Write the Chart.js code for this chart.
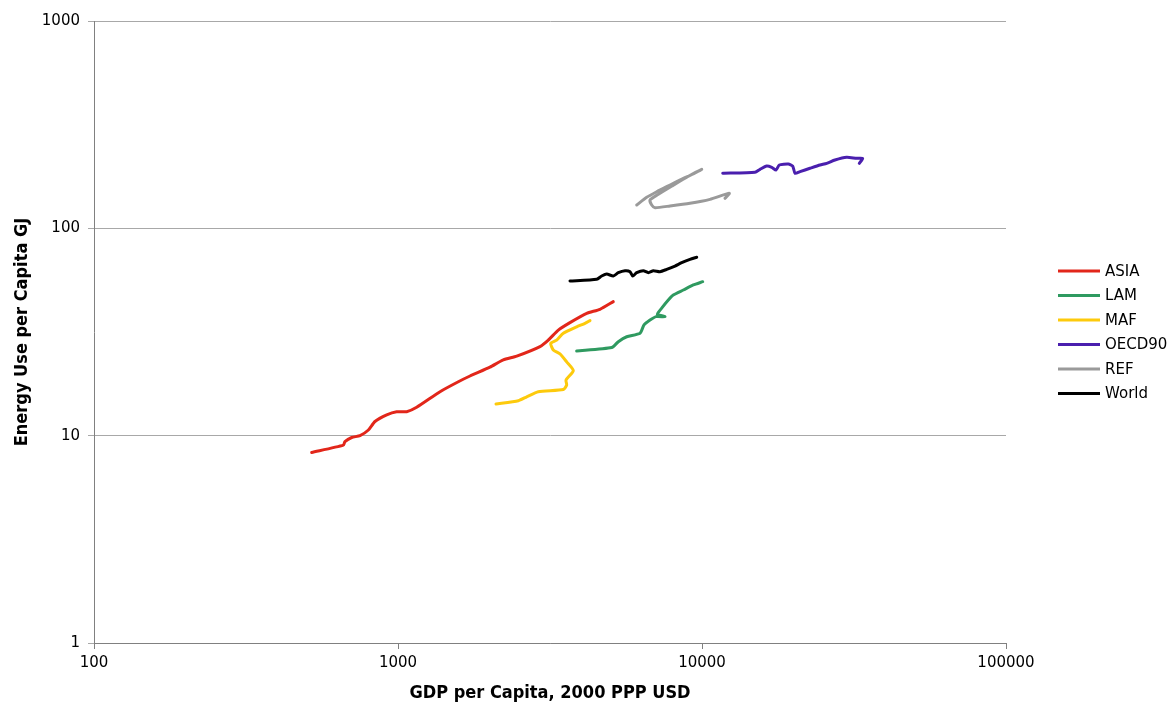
<!DOCTYPE html>
<html>
<head>
<meta charset="utf-8">
<script src="https://cdn.jsdelivr.net/npm/chart.js@4.4.1/dist/chart.umd.min.js"></script>
<style>
  html, body { margin: 0; padding: 0; background: #ffffff; }
  #wrap { width: 1174px; height: 704px; position: relative; }
</style>
</head>
<body>
<div id="wrap"><canvas id="c" width="1174" height="704"></canvas></div>
<script>
// ---- Data ----
const seriesNames = ['ASIA', 'LAM', 'MAF', 'OECD90', 'REF', 'World'];

const asiaGdp    = [520, 661, 669, 704, 750, 799, 840, 918, 990, 1068, 1152, 1375, 1579, 1725, 2007, 2220, 2458, 2932, 3122, 3368, 3679, 4176, 4618, 5107];
const asiaEnergy = [8.3, 9.0, 9.35, 9.8, 10.0, 10.65, 11.7, 12.6, 13.05, 13.05, 13.7, 16.3, 18.2, 19.4, 21.4, 23.2, 24.2, 26.9, 28.9, 32.3, 35.1, 38.9, 40.7, 44.3];

const lamGdp    = [3870, 5047, 5305, 5654, 6254, 6446, 6745, 7058, 7554, 7129, 7369, 7747, 8045, 8680, 9363, 10053];
const lamEnergy = [25.6, 26.6, 28.4, 30.0, 31.2, 34.2, 36.1, 37.5, 37.5, 38.5, 41.2, 45.1, 47.7, 50.4, 53.3, 55.3];

const mafGdp    = [2101, 2488, 2651, 2894, 3498, 3588, 3569, 3773, 3588, 3411, 3242, 3179, 3327, 3498, 3870, 4122, 4281];
const mafEnergy = [14.2, 14.75, 15.4, 16.3, 16.7, 17.55, 18.55, 20.6, 22.7, 24.8, 25.9, 27.9, 28.9, 31.2, 33.5, 34.8, 35.9];

const oecdGdp    = [11700, 14940, 15520, 16320, 16960, 17520, 17960, 19230, 19880, 20230, 21010, 22660, 24450, 25720, 27380, 29920, 32280, 33780, 32920];
const oecdEnergy = [184.3, 186.3, 192.6, 199.8, 196.9, 191.1, 202.1, 204.3, 199.8, 184.3, 187.6, 194.8, 202.1, 205.9, 213.6, 220.1, 217.6, 217.6, 205.9];

const refGdp    = [6099, 6578, 7096, 7846, 8680, 9363, 9977, 8993, 7966, 7166, 6745, 6832, 7005, 7846, 9130, 10625, 12295, 11904];
const refEnergy = [129.6, 141.1, 150.2, 161.8, 174.3, 182.8, 192.6, 177.8, 160.0, 145.6, 137.0, 129.6, 125.8, 128.2, 132.1, 138.0, 147.6, 139.6];

const worldGdp    = [3679, 4504, 4678, 4859, 5107, 5305, 5582, 5798, 5916, 6099, 6412, 6660, 6917, 7275, 7655, 8150, 8575, 9130, 9607];
const worldEnergy = [55.7, 56.8, 58.9, 60.2, 58.9, 61.1, 62.45, 61.8, 58.9, 61.1, 62.45, 61.1, 62.45, 61.8, 63.4, 65.8, 68.3, 70.9, 72.5];

const xTickValues = [100, 1000, 10000, 100000];
const xTickLabels = ['100', '1000', '10000', '100000'];
const yTickValues = [1, 10, 100, 1000];
const yTickLabels = ['1', '10', '100', '1000'];

const seriesColors = ['#e2261a', '#2f9a60', '#fdca0c', '#4a1fae', '#9a9a9a', '#000000'];

// ---- Build datasets ----
function pts(xs, ys) { return xs.map((x, i) => ({ x: x, y: ys[i] })); }
const allX = [asiaGdp, lamGdp, mafGdp, oecdGdp, refGdp, worldGdp];
const allY = [asiaEnergy, lamEnergy, mafEnergy, oecdEnergy, refEnergy, worldEnergy];

const datasets = seriesNames.map((name, i) => ({
  label: name,
  data: pts(allX[i], allY[i]),
  showLine: true,
  borderColor: seriesColors[i],
  backgroundColor: seriesColors[i],
  borderWidth: 3,
  pointRadius: 0,
  pointHoverRadius: 0,
  tension: 0.2,
  borderCapStyle: 'round',
  borderJoinStyle: 'round',
  fill: false
}));

// ---- Custom legend drawn at the right ----
const rightLegend = {
  id: 'rightLegend',
  afterDraw(chart) {
    const ctx = chart.ctx;
    ctx.save();
    const x0 = 1058, x1 = 1100, tx = 1105;
    const yStart = 271, step = 24.5;
    ctx.font = '15px "DejaVu Sans", Verdana, sans-serif';
    ctx.textBaseline = 'middle';
    ctx.textAlign = 'left';
    chart.data.datasets.forEach((ds, i) => {
      const y = yStart + i * step;
      ctx.strokeStyle = ds.borderColor;
      ctx.lineWidth = 3;
      ctx.lineCap = 'butt';
      ctx.beginPath();
      ctx.moveTo(x0, y);
      ctx.lineTo(x1, y);
      ctx.stroke();
      ctx.fillStyle = '#000000';
      ctx.fillText(ds.label, tx, y + 1);
    });
    ctx.restore();
  }
};

const whiteBg = {
  id: 'whiteBg',
  beforeDraw(chart) {
    const ctx = chart.ctx;
    ctx.save();
    ctx.fillStyle = '#ffffff';
    ctx.fillRect(0, 0, chart.width, chart.height);
    ctx.restore();
  }
};

new Chart(document.getElementById('c'), {
  type: 'scatter',
  data: { datasets: datasets },
  options: {
    responsive: false,
    animation: false,
    devicePixelRatio: 1,
    layout: { padding: { top: 21, right: 168, left: 0, bottom: 0 } },
    plugins: {
      legend: { display: false },
      tooltip: { enabled: false }
    },
    scales: {
      x: {
        type: 'logarithmic',
        min: 100,
        max: 100000,
        afterBuildTicks(scale) { scale.ticks = xTickValues.map(v => ({ value: v })); },
        afterFit(scale) { scale.height = 61; },
        ticks: {
          callback: (v) => { const k = xTickValues.indexOf(v); return k >= 0 ? xTickLabels[k] : ''; },
          font: { family: '"DejaVu Sans", Verdana, sans-serif', size: 15 },
          color: '#000000',
          padding: 5,
          maxRotation: 0,
          autoSkip: false
        },
        grid: { drawOnChartArea: false, drawTicks: true, tickLength: 6, color: '#808080' },
        border: { display: true, color: '#808080', width: 1 },
        title: {
          display: true,
          text: 'GDP per Capita, 2000 PPP USD',
          font: { family: '"DejaVu Sans Condensed", "DejaVu Sans", sans-serif', size: 18, weight: 'bold' },
          color: '#000000',
          padding: { top: 0, bottom: 0 }
        }
      },
      y: {
        type: 'logarithmic',
        min: 1,
        max: 1000,
        afterBuildTicks(scale) { scale.ticks = yTickValues.map(v => ({ value: v })); },
        afterFit(scale) { scale.width = 94; },
        ticks: {
          callback: (v) => { const k = yTickValues.indexOf(v); return k >= 0 ? yTickLabels[k] : ''; },
          font: { family: '"DejaVu Sans", Verdana, sans-serif', size: 15 },
          color: '#000000',
          padding: 8,
          autoSkip: false
        },
        grid: { drawOnChartArea: true, drawTicks: true, tickLength: 6, color: '#a8a8a8', lineWidth: 1 },
        border: { display: true, color: '#808080', width: 1 },
        title: {
          display: true,
          text: 'Energy Use per Capita GJ',
          font: { family: '"DejaVu Sans Condensed", "DejaVu Sans", sans-serif', size: 18, weight: 'bold' },
          color: '#000000',
          padding: { top: 12, bottom: 0 }
        }
      }
    }
  },
  plugins: [whiteBg, rightLegend]
});
</script>
</body>
</html>
